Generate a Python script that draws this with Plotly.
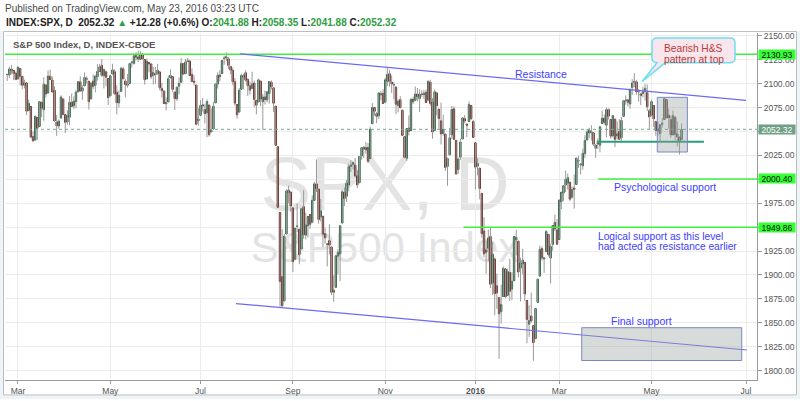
import plotly.graph_objects as go
import pandas as pd

# ---------------- data ----------------
HOLIDAYS = ["2015-04-03", "2015-05-25", "2015-07-03", "2015-09-07", "2015-11-26", "2015-12-25",
            "2016-01-01", "2016-01-18", "2016-02-15", "2016-03-25"]
FIRST_DAY, LAST_DAY = "2015-02-23", "2016-05-20"

OPEN = [
    2109.8, 2109.1, 2115.3, 2113.9, 2110.9,  # Feb 15
    2105.2, 2115.8, 2107.7, 2098.5, 2100.9, 2072.3, 2076.1, 2044.7, 2041.1, 2064.6, 2055.4, 2080.6, 2072.8, 2098.7, 2090.3, 2107.9, 2103.9, 2093.1, 2059.9, 2055.8, 2064.1, 2084.1,  # Mar
    2067.6, 2060.0, 2064.9, 2080.8, 2076.9, 2081.3, 2091.5, 2102.0, 2092.3, 2097.8, 2105.0, 2102.6, 2084.1, 2102.8, 2098.3, 2107.2, 2112.8, 2119.3, 2108.4, 2112.5, 2105.5,  # Apr
    2087.4, 2110.2, 2112.6, 2091.3, 2080.0, 2092.1, 2115.6, 2102.9, 2099.6, 2100.4, 2122.1, 2121.3, 2129.5, 2127.8, 2125.6, 2130.4, 2125.3, 2105.1, 2122.3, 2120.7,  # May
    2108.6, 2110.4, 2110.6, 2112.4, 2095.1, 2092.3, 2079.1, 2081.0, 2106.2, 2107.4, 2091.3, 2084.3, 2097.4, 2101.6, 2121.1, 2110.6, 2123.2, 2123.6, 2109.9, 2102.6, 2098.6, 2061.2,  # Jun
    2067.0, 2078.0, 2073.0, 2069.5, 2077.7, 2049.7, 2052.7, 2080.0, 2099.7, 2109.2, 2110.6, 2126.8, 2126.9, 2126.2, 2118.2, 2114.2, 2102.2, 2078.2, 2070.4, 2094.2, 2106.8, 2111.6,  # Jul
    2104.5, 2097.7, 2095.3, 2100.8, 2082.6, 2081.0, 2102.7, 2081.1, 2086.2, 2083.2, 2089.7, 2101.6, 2095.7, 2076.6, 2034.1, 1965.2, 1898.1, 1872.8, 1942.8, 1986.1, 1986.7,  # Aug
    1970.1, 1916.5, 1950.8, 1947.8, 1927.3, 1971.5, 1941.6, 1951.5, 1963.1, 1955.1, 1978.0, 1995.3, 1989.7, 1960.8, 1961.4, 1943.2, 1932.2, 1935.9, 1929.2, 1881.9, 1887.1,  # Sep
    1919.7, 1921.8, 1954.3, 1986.6, 1982.3, 1994.0, 2013.7, 2015.7, 2015.0, 2003.7, 1996.5, 2024.4, 2031.7, 2033.1, 2033.5, 2021.9, 2058.2, 2075.1, 2068.8, 2066.5, 2088.4, 2090.0,  # Oct
    2080.8, 2102.6, 2110.6, 2101.7, 2098.6, 2096.6, 2077.2, 2083.4, 2072.3, 2044.6, 2022.1, 2053.7, 2051.0, 2083.7, 2082.8, 2089.4, 2084.4, 2089.3, 2088.8, 2091.0,  # Nov
    2082.9, 2101.7, 2080.7, 2051.2, 2090.4, 2073.4, 2061.2, 2047.9, 2047.3, 2013.4, 2025.6, 2046.5, 2073.8, 2040.8, 2010.3, 2023.2, 2042.2, 2063.5, 2057.8, 2060.5, 2077.3, 2060.6,  # Dec
    2038.2, 2013.8, 2011.7, 1985.3, 1946.0, 1926.1, 1927.8, 1940.3, 1891.7, 1916.7, 1888.7, 1876.2, 1861.5, 1877.4, 1906.3, 1878.8, 1902.5, 1885.2, 1894.0,  # Jan 16
    1936.9, 1935.3, 1907.1, 1911.7, 1913.1, 1873.3, 1848.5, 1857.1, 1847.0, 1833.4, 1871.4, 1898.8, 1927.6, 1916.7, 1924.4, 1942.4, 1917.6, 1931.9, 1955.0, 1947.1,  # Feb
    1937.1, 1976.6, 1985.6, 1994.0, 1996.1, 1996.9, 1981.4, 1991.0, 1994.7, 2019.3, 2015.3, 2014.2, 2026.9, 2041.2, 2048.6, 2048.6, 2048.6, 2032.5, 2037.9, 2035.8, 2058.3, 2063.8,  # Mar
    2056.6, 2073.2, 2062.5, 2045.6, 2063.0, 2045.5, 2050.2, 2043.7, 2065.9, 2082.9, 2083.1, 2078.8, 2096.1, 2101.5, 2102.1, 2091.5, 2089.4, 2089.8, 2092.3, 2090.9, 2071.8,  # Apr
    2067.2, 2077.2, 2060.3, 2052.9, 2047.8, 2057.6, 2062.6, 2083.3, 2067.2, 2062.5, 2046.5, 2065.0, 2044.4, 2044.2, 2041.88,  # May
]
HIGH = [
    2110.1, 2117.9, 2119.6, 2113.9, 2112.7,
    2117.5, 2115.8, 2107.7, 2104.3, 2100.9, 2083.5, 2076.1, 2050.1, 2066.4, 2064.6, 2081.4, 2080.6, 2106.9, 2098.7, 2113.9, 2114.9, 2107.6, 2097.4, 2067.2, 2062.8, 2088.0, 2084.1,
    2067.6, 2072.2, 2087.0, 2089.8, 2086.7, 2093.3, 2102.6, 2107.7, 2098.6, 2111.9, 2107.9, 2102.6, 2101.9, 2109.6, 2109.0, 2120.5, 2120.9, 2125.9, 2116.0, 2113.7, 2105.5,
    2108.4, 2120.9, 2115.2, 2098.4, 2092.9, 2117.7, 2117.7, 2105.1, 2110.2, 2121.5, 2123.9, 2131.8, 2133.0, 2134.7, 2134.3, 2132.2, 2125.3, 2126.2, 2122.3, 2120.7,
    2117.5, 2117.6, 2121.0, 2112.9, 2101.0, 2093.0, 2085.6, 2108.5, 2115.0, 2107.4, 2091.3, 2097.4, 2106.8, 2126.7, 2121.6, 2126.0, 2127.0, 2125.1, 2116.0, 2108.9, 2098.6, 2074.3,
    2082.8, 2085.1, 2078.6, 2083.7, 2077.7, 2074.3, 2081.3, 2100.7, 2112.0, 2114.1, 2124.4, 2128.9, 2132.8, 2128.1, 2118.5, 2116.9, 2106.0, 2078.2, 2095.6, 2110.6, 2110.5, 2114.2,
    2105.7, 2102.5, 2112.7, 2103.3, 2082.6, 2105.4, 2102.7, 2089.1, 2092.9, 2092.5, 2102.9, 2103.5, 2096.2, 2076.6, 2034.1, 1965.2, 1948.0, 1943.1, 1989.6, 1993.5, 1986.7,
    1970.1, 1948.9, 1975.0, 1947.8, 1970.4, 1988.6, 1965.3, 1961.1, 1963.1, 1983.2, 1997.3, 2020.9, 1989.7, 1979.6, 1961.4, 1949.5, 1932.2, 1952.9, 1929.2, 1899.5, 1920.5,
    1927.2, 1951.4, 1989.2, 1991.6, 1999.3, 2016.5, 2020.1, 2018.7, 2022.3, 2009.6, 2024.2, 2033.5, 2034.5, 2039.1, 2038.0, 2055.2, 2079.7, 2075.1, 2070.4, 2090.4, 2092.5, 2094.3,
    2106.2, 2116.5, 2114.6, 2108.8, 2101.9, 2096.6, 2083.7, 2086.9, 2072.3, 2044.6, 2053.2, 2066.7, 2085.3, 2086.7, 2097.1, 2095.6, 2094.1, 2093.0, 2093.3, 2093.8,
    2103.4, 2104.3, 2085.0, 2093.8, 2090.4, 2073.4, 2080.3, 2067.7, 2047.3, 2022.9, 2053.9, 2076.7, 2076.4, 2040.8, 2022.9, 2042.7, 2064.7, 2067.4, 2057.8, 2081.6, 2077.3, 2062.5,
    2038.2, 2021.9, 2011.7, 1985.3, 1960.4, 1935.7, 1947.4, 1950.3, 1934.5, 1916.7, 1901.4, 1876.2, 1889.9, 1908.9, 1906.3, 1906.7, 1917.0, 1903.0, 1940.2,
    1947.2, 1935.3, 1918.0, 1927.4, 1913.1, 1873.3, 1868.3, 1881.6, 1847.0, 1864.8, 1895.8, 1930.7, 1930.0, 1918.8, 1946.7, 1942.4, 1932.1, 1951.8, 1963.0, 1958.3,
    1978.4, 1986.5, 1993.7, 2009.1, 2006.1, 1996.9, 1992.7, 2005.1, 2022.4, 2024.6, 2015.9, 2032.0, 2046.2, 2052.4, 2053.9, 2056.6, 2048.6, 2036.0, 2042.7, 2055.9, 2072.2, 2067.9,
    2075.1, 2074.0, 2062.5, 2067.3, 2063.0, 2060.6, 2062.9, 2065.1, 2083.2, 2087.8, 2083.2, 2094.7, 2104.9, 2111.1, 2103.8, 2094.3, 2089.4, 2096.9, 2099.9, 2099.3, 2073.9,
    2083.4, 2077.2, 2060.3, 2060.2, 2057.7, 2064.2, 2084.9, 2083.3, 2074.0, 2066.8, 2071.9, 2065.7, 2060.6, 2044.2, 2058.35,
]
LOW = [
    2103.0, 2105.9, 2109.9, 2103.8, 2103.8,
    2104.5, 2098.3, 2094.5, 2095.2, 2067.3, 2072.2, 2044.2, 2039.7, 2041.1, 2041.2, 2055.4, 2065.1, 2061.2, 2085.6, 2090.3, 2104.4, 2091.5, 2061.1, 2045.5, 2052.9, 2064.1, 2067.0,
    2048.4, 2057.3, 2056.5, 2076.1, 2073.3, 2074.3, 2091.5, 2092.3, 2083.2, 2097.8, 2100.3, 2073.0, 2084.1, 2094.4, 2091.1, 2103.2, 2112.8, 2107.0, 2094.9, 2097.4, 2077.6,
    2087.4, 2110.2, 2088.5, 2067.9, 2075.0, 2092.1, 2104.6, 2085.6, 2096.0, 2100.4, 2116.8, 2120.0, 2124.5, 2122.6, 2125.3, 2126.1, 2099.2, 2105.1, 2112.2, 2104.9,
    2099.1, 2100.0, 2109.6, 2093.2, 2085.7, 2079.1, 2072.1, 2081.0, 2106.2, 2091.3, 2072.5, 2082.1, 2088.9, 2101.6, 2109.1, 2110.6, 2122.9, 2108.4, 2101.8, 2098.0, 2056.6, 2056.3,
    2067.0, 2071.0, 2058.4, 2044.0, 2044.7, 2049.7, 2052.7, 2080.0, 2095.0, 2102.5, 2110.6, 2119.9, 2123.7, 2115.4, 2110.0, 2098.6, 2077.1, 2063.5, 2070.4, 2094.2, 2094.1, 2102.1,
    2087.3, 2088.6, 2095.3, 2075.5, 2067.9, 2081.0, 2076.5, 2052.1, 2078.3, 2080.6, 2079.3, 2094.1, 2070.5, 2035.7, 1970.9, 1867.0, 1867.1, 1872.8, 1942.8, 1975.2, 1966.0,
    1903.1, 1916.5, 1944.7, 1911.2, 1927.3, 1937.9, 1937.2, 1939.2, 1948.3, 1954.3, 1977.9, 1986.7, 1953.5, 1955.8, 1929.2, 1932.6, 1908.9, 1921.5, 1879.2, 1871.9, 1887.1,
    1900.7, 1893.7, 1954.3, 1972.0, 1976.4, 1987.5, 2007.6, 2010.3, 2001.8, 1990.7, 1996.5, 2020.5, 2022.3, 2026.6, 2017.2, 2021.9, 2058.2, 2066.5, 2058.8, 2063.1, 2082.6, 2079.3,
    2080.8, 2097.5, 2097.0, 2090.4, 2083.7, 2068.2, 2069.9, 2074.9, 2045.7, 2022.0, 2019.4, 2045.9, 2051.0, 2078.8, 2082.8, 2081.4, 2070.3, 2086.3, 2084.1, 2080.4,
    2082.9, 2077.1, 2042.4, 2051.2, 2066.8, 2052.3, 2036.5, 2045.7, 2008.8, 1993.3, 2025.6, 2042.4, 2041.7, 2005.3, 2005.9, 2020.5, 2042.2, 2058.7, 2044.2, 2060.5, 2062.0, 2043.6,
    1989.7, 2004.2, 1979.1, 1938.8, 1918.5, 1901.1, 1914.4, 1886.3, 1878.9, 1857.8, 1864.6, 1812.3, 1849.0, 1877.4, 1876.0, 1878.8, 1872.7, 1873.7, 1894.0,
    1920.3, 1897.3, 1872.2, 1900.5, 1872.7, 1828.5, 1834.9, 1850.3, 1810.1, 1833.4, 1871.4, 1898.8, 1915.1, 1902.2, 1924.4, 1919.4, 1891.0, 1925.4, 1945.8, 1931.8,
    1937.1, 1968.9, 1977.4, 1986.8, 1989.4, 1977.4, 1979.8, 1969.3, 1994.7, 2012.1, 2005.2, 2010.0, 2022.2, 2041.2, 2043.1, 2040.6, 2034.9, 2022.5, 2032.0, 2028.3, 2058.3, 2057.5,
    2044.0, 2062.6, 2042.6, 2043.8, 2033.8, 2041.7, 2041.9, 2039.7, 2065.9, 2078.1, 2076.3, 2073.7, 2088.3, 2096.3, 2088.5, 2081.2, 2077.5, 2085.8, 2082.3, 2071.6, 2052.3,
    2066.1, 2054.9, 2045.6, 2045.8, 2039.5, 2054.3, 2062.6, 2064.5, 2053.1, 2043.1, 2046.5, 2040.8, 2034.5, 2025.9, 2041.88,
]
CLOSE = [
    2109.7, 2115.5, 2113.9, 2110.7, 2104.5,
    2117.4, 2107.8, 2098.5, 2101.0, 2071.3, 2079.4, 2044.2, 2040.2, 2066.0, 2053.4, 2081.2, 2074.3, 2099.5, 2089.3, 2108.1, 2104.4, 2091.5, 2061.1, 2056.2, 2061.0, 2086.2, 2067.9,
    2059.7, 2067.0, 2080.6, 2076.3, 2081.9, 2091.2, 2102.1, 2092.4, 2095.8, 2106.6, 2105.0, 2081.2, 2100.4, 2097.3, 2108.0, 2112.9, 2117.7, 2108.9, 2114.8, 2106.9, 2085.5,
    2108.3, 2114.5, 2089.5, 2080.2, 2088.0, 2116.1, 2105.3, 2099.1, 2098.5, 2121.1, 2122.7, 2129.2, 2127.8, 2125.9, 2130.8, 2126.1, 2104.2, 2123.5, 2120.8, 2107.4,
    2111.7, 2109.6, 2114.1, 2095.8, 2092.8, 2079.3, 2080.2, 2105.2, 2108.9, 2094.1, 2084.4, 2096.3, 2100.4, 2121.2, 2110.0, 2122.9, 2124.2, 2108.6, 2102.3, 2101.5, 2057.6, 2063.1,
    2077.4, 2076.8, 2068.8, 2081.3, 2046.7, 2051.3, 2076.6, 2099.6, 2109.0, 2107.4, 2124.3, 2126.6, 2128.3, 2119.2, 2114.2, 2102.2, 2079.7, 2067.6, 2093.3, 2108.6, 2108.6, 2103.8,
    2098.0, 2093.3, 2099.8, 2083.6, 2077.6, 2104.2, 2084.1, 2086.1, 2083.4, 2091.5, 2102.4, 2096.9, 2079.6, 2035.7, 1970.9, 1893.2, 1867.6, 1940.5, 1987.7, 1988.9, 1972.2,
    1913.9, 1948.9, 1951.1, 1921.2, 1969.4, 1942.0, 1952.3, 1961.1, 1953.0, 1978.1, 1995.3, 1990.2, 1958.0, 1967.0, 1942.7, 1938.8, 1932.2, 1931.3, 1881.8, 1884.1, 1920.0,
    1923.8, 1951.4, 1987.1, 1979.9, 1995.8, 2013.4, 2014.9, 2017.5, 2003.7, 1994.2, 2023.9, 2033.1, 2033.7, 2030.8, 2018.9, 2052.5, 2075.2, 2071.2, 2065.9, 2090.4, 2089.4, 2079.4,
    2104.1, 2109.8, 2102.3, 2099.9, 2099.2, 2078.6, 2081.7, 2075.0, 2046.0, 2023.0, 2053.2, 2050.4, 2083.6, 2081.2, 2089.2, 2086.6, 2089.1, 2088.9, 2090.1, 2080.4,
    2102.6, 2079.5, 2049.6, 2091.7, 2077.1, 2063.6, 2047.6, 2052.2, 2012.4, 2021.9, 2043.4, 2073.1, 2041.9, 2005.6, 2021.2, 2039.0, 2064.3, 2061.0, 2056.5, 2078.4, 2063.4, 2043.9,
    2012.7, 2016.7, 1990.3, 1943.1, 1922.0, 1923.7, 1938.7, 1890.3, 1921.8, 1880.3, 1881.3, 1859.3, 1869.0, 1906.9, 1877.1, 1903.6, 1883.0, 1893.4, 1940.2,
    1939.4, 1903.0, 1912.5, 1915.5, 1880.1, 1853.4, 1852.2, 1851.9, 1829.1, 1864.8, 1895.6, 1926.8, 1917.8, 1917.8, 1945.5, 1921.3, 1929.8, 1951.7, 1948.1, 1932.2,
    1978.4, 1986.5, 1993.4, 2000.0, 2001.8, 1979.3, 1989.3, 1989.6, 2022.2, 2019.6, 2015.9, 2027.2, 2040.6, 2049.6, 2051.6, 2049.8, 2036.7, 2035.9, 2037.1, 2055.0, 2064.0, 2059.7,
    2072.8, 2066.1, 2045.2, 2066.7, 2041.9, 2047.6, 2042.0, 2061.7, 2082.4, 2082.8, 2080.7, 2094.3, 2100.8, 2102.4, 2091.5, 2091.6, 2087.8, 2091.7, 2095.2, 2075.8, 2065.3,
    2081.4, 2063.4, 2051.1, 2050.6, 2057.1, 2058.7, 2084.4, 2064.5, 2064.1, 2046.6, 2066.7, 2047.2, 2047.6, 2040.0, 2052.32,
]

TICK_DAYS = ["2015-03-02", "2015-05-01", "2015-07-01", "2015-09-01", "2015-11-02",
             "2016-01-04", "2016-03-01", "2016-05-02", "2016-07-01"]
TICK_TEXT = ["Mar", "May", "Jul", "Sep", "Nov", "<b>2016</b>", "Mar", "May", "Jul"]
Y_TICKS = list(range(1800, 2151, 25))
Y_HIDDEN = [1950, 2000, 2050]  # covered by the level labels in the original

LEVEL_TOP, LEVEL_PSYCH, LEVEL_LOGICAL = 2130.93, 2000.40, 1949.86
LAST_PRICE = 2052.32
NECKLINE = 2039.4

# ---------------- build ----------------
days = pd.bdate_range(FIRST_DAY, LAST_DAY)
days = days[~days.isin(pd.to_datetime(HOLIDAYS))]
n = len(days)
if not (n == len(OPEN) == len(HIGH) == len(LOW) == len(CLOSE)):
    raise SystemExit(f"length mismatch {n} {len(OPEN)} {len(HIGH)} {len(LOW)} {len(CLOSE)}")
X = [d.strftime("%Y-%m-%d 12:00") for d in days]

X_START, X_END = "2015-02-20 10:48", "2016-07-08 14:53"

# plot area in pixels: x 5..757, y 33..382
def PX(x):
    return (x - 5) / 752.0


def PY(y):
    return (382 - y) / 349.0


FONT = "Liberation Sans, Arial, sans-serif"
NARROW = "Liberation Sans Narrow, Liberation Sans, Arial, sans-serif"

fig = go.Figure()
# wicks
fig.add_trace(go.Ohlc(
    x=X, open=OPEN, high=HIGH, low=LOW, close=CLOSE, tickwidth=0,
    increasing=dict(line=dict(color="#999999", width=1)),
    decreasing=dict(line=dict(color="#999999", width=1)),
    hoverinfo="skip", showlegend=False))
# bodies
body_hi = [max(o, c) for o, c in zip(OPEN, CLOSE)]
body_lo = [min(o, c) for o, c in zip(OPEN, CLOSE)]
fig.add_trace(go.Candlestick(
    x=X, open=OPEN, high=body_hi, low=body_lo, close=CLOSE, whiskerwidth=0,
    increasing=dict(fillcolor="#3a8a5a", line=dict(color="#1f5535", width=1)),
    decreasing=dict(fillcolor="#ad3628", line=dict(color="#5e1a12", width=1)),
    hoverinfo="skip", showlegend=False))

shapes = []
# outer frame & background strips
BG = "#eef4f6"
shapes.append(dict(type="rect", xref="paper", yref="paper", x0=PX(0), x1=PX(800), y0=PY(397), y1=PY(401),
                   line=dict(width=0), fillcolor=BG, layer="below"))
shapes.append(dict(type="rect", xref="paper", yref="paper", x0=PX(0), x1=PX(3.5), y0=PY(31), y1=PY(401),
                   line=dict(width=0), fillcolor=BG, layer="below"))
shapes.append(dict(type="rect", xref="paper", yref="paper", x0=PX(796.5), x1=PX(800), y0=PY(31), y1=PY(401),
                   line=dict(width=0), fillcolor=BG, layer="below"))
shapes.append(dict(type="rect", xref="paper", yref="paper", x0=PX(3.5), x1=PX(796.5), y0=PY(31.5), y1=PY(397),
                   line=dict(color="#b9c0c4", width=1), fillcolor="rgba(0,0,0,0)", layer="below"))

# watermark
shapes.append(dict(type="rect", xref="paper", yref="paper", x0=PX(230), x1=PX(540), y0=PY(215), y1=PY(140),
                   line=dict(width=0), fillcolor="rgba(0,0,0,0)", layer="between",
                   label=dict(text="SPX, D", font=dict(size=76, color="#e3e3e3", family=FONT),
                              textposition="middle center")))
shapes.append(dict(type="rect", xref="paper", yref="paper", x0=PX(230), x1=PX(540), y0=PY(265), y1=PY(225),
                   line=dict(width=0), fillcolor="rgba(0,0,0,0)", layer="between",
                   label=dict(text="S&P500 Index", font=dict(size=42, color="#e3e3e3", family=FONT),
                              textposition="middle center")))

# last price dotted line
shapes.append(dict(type="line", xref="paper", yref="y", x0=0, x1=1, y0=LAST_PRICE, y1=LAST_PRICE,
                   line=dict(color="#7aa892", width=1, dash="dot")))

GREEN = "#3ef03e"
shapes.append(dict(type="line", xref="paper", yref="y", x0=0, x1=1, y0=LEVEL_TOP, y1=LEVEL_TOP,
                   line=dict(color=GREEN, width=1.6)))
shapes.append(dict(type="line", xref="x", yref="y", x0="2016-03-28 16:48", x1=X_END,
                   y0=LEVEL_PSYCH, y1=LEVEL_PSYCH, line=dict(color=GREEN, width=1.6)))
shapes.append(dict(type="line", xref="x", yref="y", x0="2015-12-23 21:36", x1=X_END,
                   y0=LEVEL_LOGICAL, y1=LEVEL_LOGICAL, line=dict(color=GREEN, width=1.6)))

BLUE = "#6b6bf2"
shapes.append(dict(type="line", xref="x", yref="y", x0="2015-07-28 21:07", y0=2131.3,
                   x1="2016-07-01 12:00", y1=2082.7, line=dict(color=BLUE, width=1.2)))
shapes.append(dict(type="line", xref="x", yref="y", x0="2015-07-24 23:59", y0=1870.1,
                   x1="2016-07-01 19:55", y1=1821.5, line=dict(color=BLUE, width=1.2)))

# neckline
shapes.append(dict(type="line", xref="x", yref="y", x0="2016-03-24 23:59", x1="2016-06-03 21:36",
                   y0=NECKLINE, y1=NECKLINE, line=dict(color="#2a9d7c", width=2)))

# boxes
shapes.append(dict(type="rect", xref="x", yref="y", x0="2016-05-05 04:48", x1="2016-05-25 04:48",
                   y0=2028.6, y1=2085.8, line=dict(color="#7c87c2", width=1),
                   fillcolor="rgba(150,160,158,0.38)"))
shapes.append(dict(type="rect", xref="x", yref="y", x0="2016-03-15 23:59", x1="2016-06-29 12:00",
                   y0=1810.5, y1=1844.8, line=dict(color="#7c87c2", width=1),
                   fillcolor="rgba(150,160,158,0.38)"))

# callout bubble
def P(x, y):
    return f"{PX(x):.5f},{PY(y):.5f}"


L, R, T, B, r = 652, 735, 38, 63, 5
path = (f"M {P(L + r, T)} L {P(R - r, T)} Q {P(R, T)} {P(R, T + r)} L {P(R, B - r)} "
        f"Q {P(R, B)} {P(R - r, B)} L {P(665, B)} L {P(642, 82)} L {P(657, B)} "
        f"Q {P(L, B)} {P(L, B - r)} L {P(L, T + r)} Q {P(L, T)} {P(L + r, T)} Z")
shapes.append(dict(type="path", xref="paper", yref="paper", path=path,
                   line=dict(color="#6ddff0", width=1.5), fillcolor="#f9e5ec"))

annotations = []


def txt(text, x, y, size=10.5, color="#4040ff", xanchor="left", family=FONT, **kw):
    annotations.append(dict(text=text, xref="paper", yref="paper", x=PX(x), y=PY(y),
                            xanchor=xanchor, yanchor="middle", showarrow=False,
                            font=dict(size=size, color=color, family=family), **kw))


txt("Published on TradingView.com, May 23, 2016 03:23 UTC", 3, 8, size=10, color="#4a4a4a", family=NARROW)
G = "#2f9e44"
hdr = ("<b>INDEX:SPX, D  2052.32 <span style='color:%s'>▲</span> +12.28 (+0.6%%) "
       "O:<span style='color:%s'>2041.88</span> H:<span style='color:%s'>2058.35</span> "
       "L:<span style='color:%s'>2041.88</span> C:<span style='color:%s'>2052.32</span></b>") % (G, G, G, G, G)
txt(hdr, 4, 22, size=10, color="#222", family=NARROW)
txt("<b>S&P 500 Index, D, INDEX-CBOE</b>", 11, 45, size=9.5, color="#555")

txt("Resistance", 541, 74, xanchor="center")
txt("Psychological support", 612, 188)
txt("Logical support as this level", 596, 237.5, size=10.2)
txt("had acted as resistance earlier", 596, 247.5, size=10.2)
txt("Final support", 609, 323)
txt("Bearish H&S", 662, 49, size=10.2, color="#b23b3b")
txt("pattern at top", 662, 59.5, size=10.2, color="#b23b3b")

# right-side price labels
for val, bg, fg in [(LEVEL_TOP, "#33ff33", "#111"), (LEVEL_PSYCH, "#33ff33", "#111"),
                    (LEVEL_LOGICAL, "#33ff33", "#111"), (LAST_PRICE, "#6f9f86", "#ffffff")]:
    annotations.append(dict(text=f"{val:.2f}", xref="paper", yref="y", x=PX(757.5), y=val,
                            xanchor="left", yanchor="middle", showarrow=False, width=36, height=9,
                            bgcolor=bg, borderpad=0, align="center",
                            font=dict(size=8.5, color=fg, family=FONT)))

fig.update_layout(
    width=800, height=401, margin=dict(l=5, r=43, t=33, b=19),
    paper_bgcolor="white", plot_bgcolor="white", showlegend=False, hovermode=False,
    font=dict(family=FONT), shapes=shapes, annotations=annotations, boxgap=0.1,
)
fig.update_xaxes(
    type="date", range=[X_START, X_END],
    rangebreaks=[dict(bounds=["sat", "mon"]), dict(values=HOLIDAYS)],
    tickvals=[d + " 12:00" for d in TICK_DAYS], ticktext=TICK_TEXT,
    ticks="outside", ticklen=3, tickcolor="#999", showgrid=True, gridcolor="#ececec",
    showline=True, linecolor="#9a9a9a", tickfont=dict(size=8.5, color="#555"),
    rangeslider=dict(visible=False), zeroline=False,
)
fig.update_yaxes(
    side="right", range=[1790.1, 2153.1], tickvals=Y_TICKS,
    ticktext=["" if v in Y_HIDDEN else f"{v:.2f}" for v in Y_TICKS],
    ticks="outside", ticklen=4, tickcolor="#999", showgrid=True, gridcolor="#ececec",
    showline=True, linecolor="#9a9a9a", tickfont=dict(size=8.5, color="#555"), zeroline=False,
)

fig.write_html("out.html", config={"displayModeBar": False},
               post_script="document.body.style.margin='0';document.body.style.padding='0';"
                           "document.documentElement.style.overflow='hidden';")
